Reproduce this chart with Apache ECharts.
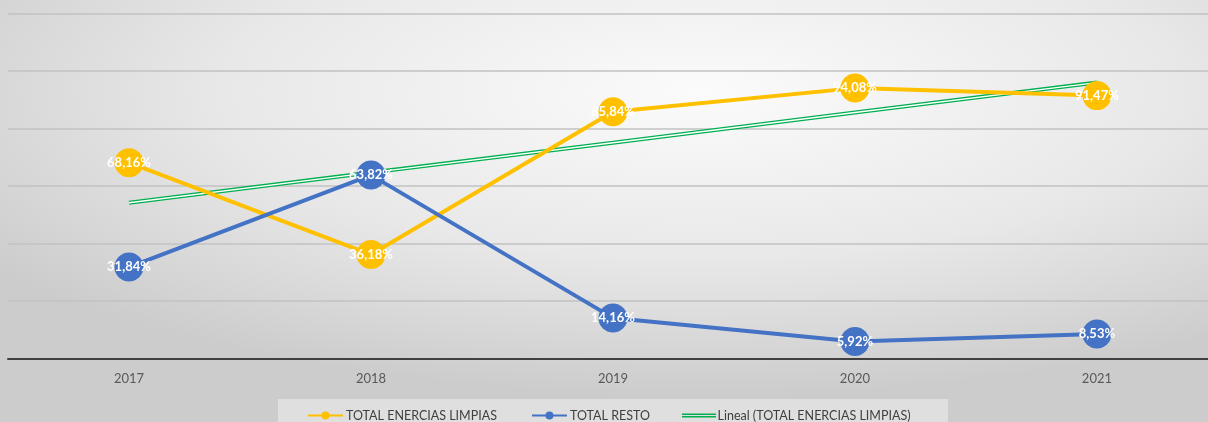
<!DOCTYPE html>
<html><head><meta charset="utf-8">
<script src="https://cdn.jsdelivr.net/npm/echarts@6/dist/echarts.min.js"></script>
<style>html,body{margin:0;padding:0;}#c{width:1208px;height:422px;}</style>
</head><body><div id="c"></div>
<script>
var categories = ['2017','2018','2019','2020','2021'];
var limpias = [68.16, 36.18, 85.84, 94.08, 91.47];
var resto = [31.84, 63.82, 14.16, 5.92, 8.53];
var lineal = [54.2, 64.7, 75.1, 85.6, 96.0];
var seriesNames = ['TOTAL ENERCIAS LIMPIAS', 'TOTAL RESTO', 'Lineal (TOTAL ENERCIAS LIMPIAS)'];

var FONT = 'Lato, "Open Sans", sans-serif';
function pairs(arr){ return arr.map(function(v,i){ return [i, v]; }); }
function fmt(p){ return p.value[1].toFixed(2).replace('.', ',') + '%'; }
var idx = categories.map(function(c,i){ return i; });
var chart = echarts.init(document.getElementById('c'), null, {renderer:'canvas'});
var lbl = {show:true, position:'inside', color:'#ffffff', fontSize:13, fontWeight:'bold', fontFamily:FONT, formatter:fmt};
chart.setOption({
  animation:false,
  backgroundColor:'#d4d4d4',
  graphic:[
    {type:'rect', z:-100, silent:true, x:0, y:0, scaleY:422/1208,
     shape:{x:0,y:0,width:1208,height:1208},
     style:{fill:{type:'radial', x:0.58, y:0.22, r:0.72, colorStops:[{offset:0,color:'#fbfbfb'},{offset:0.55,color:'#e8e8e8'},{offset:1,color:'#cccccc'}]}}},
    {type:'rect', z:-50, silent:true, shape:{x:278,y:399,width:670,height:23}, style:{fill:'#dfdfdf'}}
  ],
  grid:{left:8, top:13.6, right:0, height:345, containLabel:false},
  legend:[
    {data:[seriesNames[0], seriesNames[1]], left:302, top:404, itemWidth:35, itemHeight:10, itemGap:34,
     textStyle:{color:'#404040', fontSize:12.5, fontFamily:FONT, padding:[0,0,0,-2]}},
    {data:[{name:seriesNames[2], icon:'path://M0,0H34V1.6H0Z M0,2.6H34V4.2H0Z', itemStyle:{color:'#00b050'}}],
     left:677, top:404, itemWidth:35, itemHeight:4.2,
     textStyle:{color:'#404040', fontSize:12.5, fontFamily:FONT, padding:[0,0,0,-4]}}
  ],
  xAxis:{type:'value', min:-0.5, max:4.459,
    splitLine:{show:false},
    axisLine:{onZero:false, lineStyle:{color:'#404040', width:2}}, axisTick:{show:false},
    axisLabel:{customValues:idx, color:'#595959', fontSize:13, fontFamily:FONT, margin:14,
      formatter:function(v){ return categories[Math.round(v)] || ''; }}},
  yAxis:{type:'value', min:0, max:120, interval:20,
    axisLine:{show:false}, axisTick:{show:false}, axisLabel:{show:false},
    splitLine:{lineStyle:{color:'#c2c2c2', width:1.5}}},
  series:[
    {name:seriesNames[2], type:'line', data:pairs(lineal), symbol:'none', z:3,
     lineStyle:{color:'#00b050', width:4}, itemStyle:{color:'#00b050'}},
    {name:'_lineal_inner', type:'line', data:pairs(lineal), symbol:'none', z:4,
     lineStyle:{color:'#ffffff', width:1.4}, tooltip:{show:false}},
    {name:seriesNames[0], type:'line', data:pairs(limpias), symbol:'circle', symbolSize:29, z:5,
     lineStyle:{color:'#ffc000', width:4}, itemStyle:{color:'#ffc000'}, label:lbl},
    {name:seriesNames[1], type:'line', data:pairs(resto), symbol:'circle', symbolSize:29, z:6,
     lineStyle:{color:'#4472c4', width:4}, itemStyle:{color:'#4472c4'}, label:lbl}
  ]
});
</script></body></html>
